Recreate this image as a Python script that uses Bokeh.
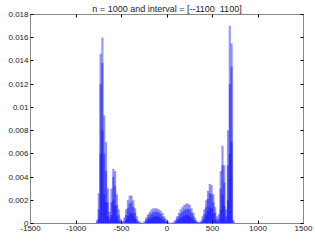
from bokeh.plotting import figure
from bokeh.models import LinearAxis, FixedTicker, Range1d, Title
from bokeh.embed import file_html
from bokeh.resources import INLINE

# bin centres (width 20) and three overlaid histogram layers (values x 1e-3)
bin_centers = list(range(-770, 731, 20))
layer_high = [0.3, 2.6, 14.6, 16, 9.3, 7, 3, 1, 3, 4.7, 4.5, 2.5, 1.2, 0.4, 0.2, 0.5, 1.2, 2.0, 2.4, 2.4,
              2.0, 1.3, 0.6, 0.2, 0.1, 0.05, 0.2, 0.5, 0.8, 1.0, 1.2, 1.3, 1.3, 1.3, 1.2, 1.1, 0.9, 0.6, 0.4, 0.2,
              0.05, 0.05, 0.1, 0.3, 0.6, 0.9, 1.2, 1.4, 1.6, 1.7, 1.7, 1.6, 1.3, 0.9, 0.5, 0.2, 0.1, 0.2, 0.6, 1.2,
              2.0, 2.8, 3.4, 3.3, 2.5, 1.4, 0.6, 0.8, 4.5, 6.7, 5.0, 1.2, 8.0, 17.0, 15.5, 0.3]
layer_mid = [0.1, 1.2, 12, 13.8, 6, 4.5, 1.8, 0.5, 1.8, 4, 3.2, 1.6, 0.7, 0.2, 0.05, 0.2, 0.7, 1.3, 1.7, 1.8,
             1.4, 0.9, 0.3, 0.1, 0, 0, 0.05, 0.3, 0.5, 0.7, 0.85, 0.95, 1.0, 1.0, 0.9, 0.8, 0.6, 0.4, 0.2, 0.05,
             0, 0, 0.05, 0.15, 0.4, 0.6, 0.85, 1.0, 1.15, 1.2, 1.25, 1.15, 0.9, 0.6, 0.3, 0.1, 0.05, 0.1, 0.3, 0.8,
             1.4, 2.1, 2.6, 2.5, 1.8, 0.9, 0.3, 0.4, 3.0, 5.0, 3.5, 0.6, 5.0, 12.0, 13.5, 0.1]
layer_low = [0, 0.4, 6, 8, 2.5, 1.8, 0.6, 0.2, 0.7, 2, 1.5, 0.6, 0.2, 0.05, 0, 0.05, 0.3, 0.6, 0.8, 0.9,
             0.7, 0.4, 0.1, 0, 0, 0, 0, 0.1, 0.25, 0.4, 0.5, 0.55, 0.6, 0.6, 0.55, 0.45, 0.3, 0.2, 0.05, 0,
             0, 0, 0, 0.05, 0.15, 0.3, 0.45, 0.55, 0.65, 0.7, 0.7, 0.6, 0.45, 0.25, 0.1, 0, 0, 0, 0.1, 0.35,
             0.7, 1.1, 1.4, 1.3, 0.8, 0.3, 0.1, 0.1, 1.2, 2.5, 1.5, 0.2, 2.0, 6.0, 7.0, 0]

x_ticks = [-1500, -1000, -500, 0, 500, 1000, 1500]
x_tick_labels = ["-1500", "-1000", "-500", "0", "500", "1000", "1500"]
y_ticks = [0, 0.002, 0.004, 0.006, 0.008, 0.01, 0.012, 0.014, 0.016, 0.018]
y_tick_labels = ["0", "0.002", "0.004", "0.006", "0.008", "0.01", "0.012", "0.014", "0.016", "0.018"]
title_text = "n = 1000 and interval = [--1100\u00a0\u00a01100]"

bin_width = 20
FONT = "Liberation Sans"

p = figure(width=315, height=242, output_backend="svg", toolbar_location=None,
           x_range=Range1d(-1500, 1500), y_range=Range1d(0, 0.018),
           min_border_left=30, min_border_right=12, min_border_top=14, min_border_bottom=19,
           x_axis_location=None, y_axis_location=None)
p.title = Title(text=title_text, align="center", text_font=FONT, text_font_size="9px",
                text_font_style="normal", text_color="#222222", standoff=1, offset=0)
p.grid.visible = False
p.outline_line_color = "#888888"
p.background_fill_color = "white"
p.border_fill_color = "white"

for layer in (layer_high, layer_mid, layer_low):
    lefts = [c - bin_width / 2 for c in bin_centers]
    rights = [c + bin_width / 2 for c in bin_centers]
    tops = [v * 1e-3 for v in layer]
    p.quad(left=lefts, right=rights, bottom=0, top=tops,
           fill_color="#0000ff", fill_alpha=0.4, line_color="#0000ff", line_alpha=0.2, line_width=0.5)

def make_axis(ticks, labels, show_labels):
    ax = LinearAxis(ticker=FixedTicker(ticks=ticks))
    ax.major_label_overrides = {t: l for t, l in zip(ticks, labels)}
    ax.major_tick_in = 3
    ax.major_tick_out = 0
    ax.minor_tick_in = 0
    ax.minor_tick_out = 0
    ax.axis_line_color = "#888888"
    ax.major_tick_line_color = "#000000"
    ax.major_label_text_font = FONT
    ax.major_label_text_font_size = "8px"
    ax.major_label_text_color = "#222222"
    ax.major_label_standoff = 2
    if not show_labels:
        ax.major_label_text_alpha = 0
        ax.major_label_text_font_size = "0px"
        ax.major_label_standoff = 0
    return ax

p.add_layout(make_axis(x_ticks, x_tick_labels, True), "below")
p.add_layout(make_axis(y_ticks, y_tick_labels, True), "left")
p.add_layout(make_axis(x_ticks, x_tick_labels, False), "above")
p.add_layout(make_axis(y_ticks, y_tick_labels, False), "right")

open("out.html", "w").write(file_html(p, INLINE))
